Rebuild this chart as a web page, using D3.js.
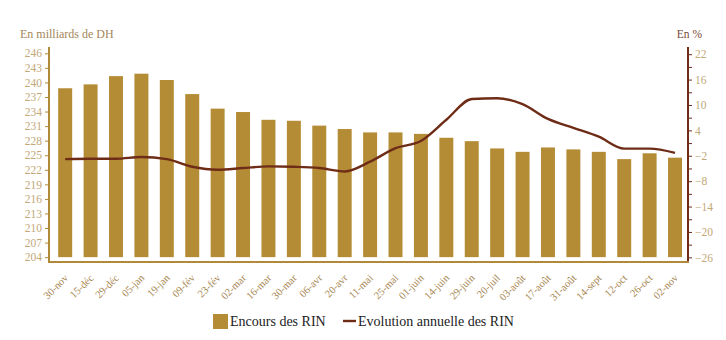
<!DOCTYPE html>
<html><head><meta charset="utf-8">
<script src="https://cdn.jsdelivr.net/npm/d3@7"></script>
<style>
body{margin:0;background:#fff;}
svg{display:block;}
text{font-family:"Liberation Serif","DejaVu Serif",serif;}
</style></head>
<body>
<svg id="c" width="726" height="340"></svg>
<script>
const categories = ["30-nov","15-déc","29-déc","05-jan","19-jan","09-fév","23-fév","02-mar","16-mar","30-mar","06-avr","20-avr","11-mai","25-mai","01-juin","14-juin","29-juin","20-juil","03-août","17-août","31-août","14-sept","12-oct","26-oct","02-nov"];
const encours = [238.8,239.6,241.3,241.8,240.5,237.6,234.6,233.9,232.3,232.1,231.1,230.4,229.7,229.7,229.4,228.6,227.9,226.4,225.7,226.6,226.2,225.7,224.2,225.4,224.5];
const evolution = [-2.8,-2.7,-2.7,-2.3,-2.8,-4.6,-5.3,-4.9,-4.5,-4.6,-4.9,-5.7,-3.4,-0.2,1.5,6.5,11.4,11.6,10.2,6.7,4.6,2.5,-0.3,-0.3,-1.3];
const leftTicks = [204,207,210,213,216,219,222,225,228,231,234,237,240,243,246];
const rightTicks = [-26,-20,-14,-8,-2,4,10,16,22];
const rightMinor = [-23,-17,-11,-5,1,7,13,19];

const barColor = "#b58c36", lineColor = "#6e2c17", tickText = "#c2a878", axisGold = "#b08a3a";
const svg = d3.select("#c");

const x = d3.scaleBand().domain(categories).range([52.6, 687.6]).paddingInner(0.45).paddingOuter(0.22);
const yL = d3.scaleLinear().domain([203, 247.3]).range([262, 47]);
const yR = d3.scaleLinear().domain([-27.1, 23.7]).range([262, 47]);

// bars
svg.append("g").selectAll("rect").data(encours).join("rect")
  .attr("x", (d,i) => x(categories[i]))
  .attr("width", x.bandwidth())
  .attr("y", d => yL(d))
  .attr("height", d => yL(204) - yL(d))
  .attr("fill", barColor);

// line
const line = d3.line().x((d,i) => x(categories[i]) + x.bandwidth()/2).y(d => yR(d)).curve(d3.curveMonotoneX);
svg.append("path").datum(evolution).attr("d", line).attr("fill","none").attr("stroke", lineColor).attr("stroke-width", 2.4);

// left axis
const gL = svg.append("g").attr("transform","translate(49,0)")
  .call(d3.axisLeft(yL).tickValues(leftTicks).tickSize(4).tickPadding(3).tickFormat(d3.format("d")));
gL.select(".domain").attr("stroke", axisGold).attr("stroke-width", 2).attr("d","M0,47V262");
gL.selectAll(".tick line").attr("stroke", axisGold);
gL.selectAll(".tick text").attr("fill", tickText).style("font-size","11.5px");

// right axis
const gRm = svg.append("g").attr("transform","translate(688,0)")
  .call(d3.axisRight(yR).tickValues(rightMinor).tickSize(4).tickFormat(""));
gRm.select(".domain").remove();
gRm.selectAll(".tick line").attr("stroke", lineColor);
const gR = svg.append("g").attr("transform","translate(688,0)")
  .call(d3.axisRight(yR).tickValues(rightTicks).tickSize(4).tickPadding(3).tickFormat(d3.format("d")));
gR.select(".domain").attr("stroke", lineColor).attr("stroke-width", 2).attr("d","M0,47V262");
gR.selectAll(".tick line").attr("stroke", lineColor);
gR.selectAll(".tick text").attr("fill", tickText).style("font-size","11.5px");

// bottom axis
const gB = svg.append("g").attr("transform","translate(0,262)")
  .call(d3.axisBottom(x).tickSize(0).tickPadding(0));
gB.select(".domain").attr("stroke", axisGold).attr("stroke-width", 2).attr("d","M48,0H689");
gB.selectAll(".tick text")
  .attr("fill", "#a6854f").style("font-size","10.5px")
  .attr("text-anchor","end")
  .attr("transform","translate(1,14) rotate(-45)")
  .attr("dy","0.35em").attr("y",0);

// titles
svg.append("text").attr("x",20).attr("y",38).text("En milliards de DH").attr("fill","#a4875a").style("font-size","12px");
svg.append("text").attr("x",702).attr("y",38).attr("text-anchor","end").text("En %").attr("fill","#7a4a36").style("font-size","11.5px");

// legend
const lg = svg.append("g");
lg.append("rect").attr("x",213).attr("y",314).attr("width",15).attr("height",15).attr("fill",barColor);
lg.append("text").attr("x",230).attr("y",326).text("Encours des RIN").attr("fill","#222").style("font-size","14px");
lg.append("line").attr("x1",343).attr("x2",356).attr("y1",321).attr("y2",321).attr("stroke",lineColor).attr("stroke-width",2.4);
lg.append("text").attr("x",358).attr("y",326).text("Evolution annuelle des RIN").attr("fill","#222").style("font-size","14px");
</script>
</body></html>
